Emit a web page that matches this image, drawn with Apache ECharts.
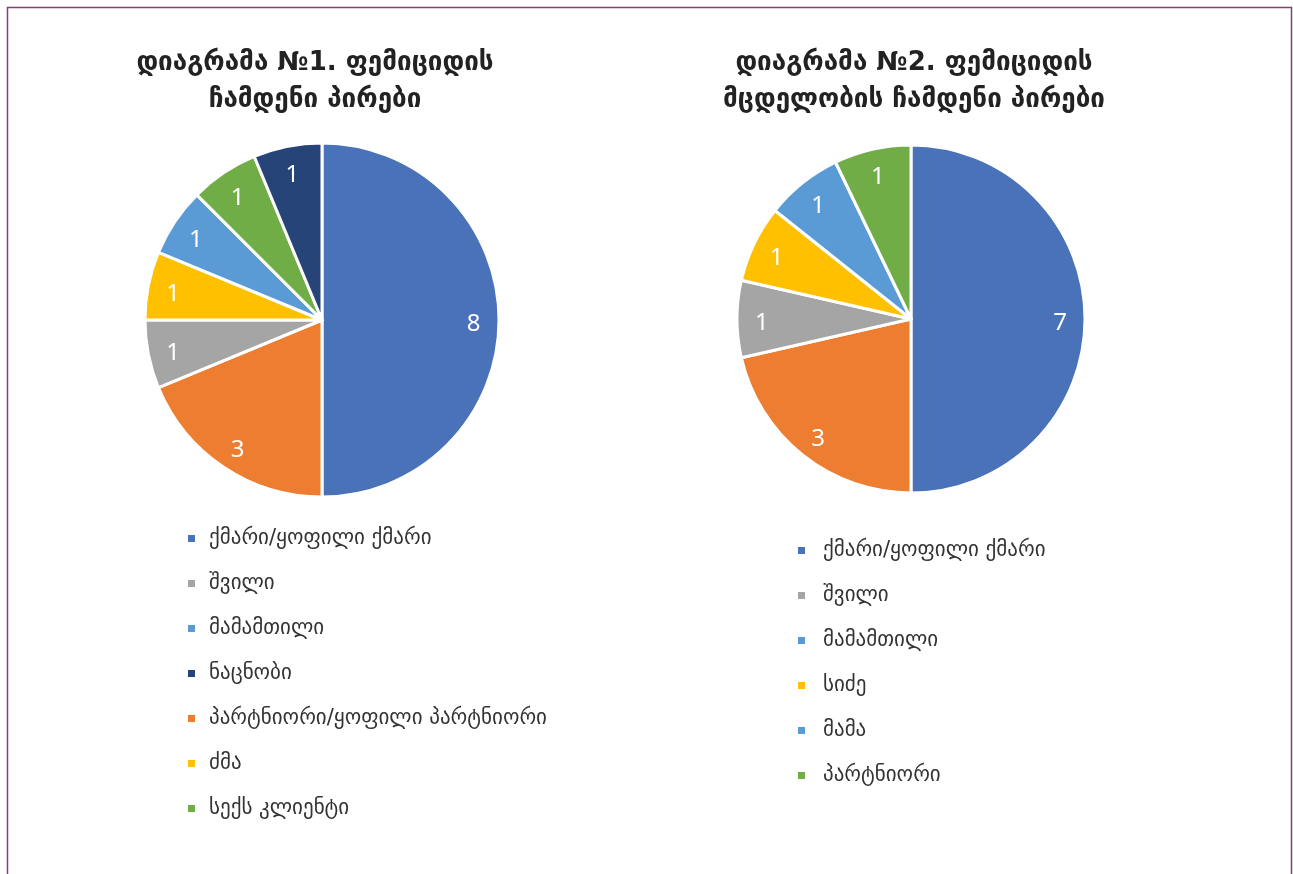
<!DOCTYPE html>
<html>
<head>
<meta charset="utf-8">
<script src="https://cdn.jsdelivr.net/npm/echarts@6/dist/echarts.min.js"></script>
<style>
html,body{margin:0;padding:0;background:#fff;}
#c{width:1293px;height:874px;}
</style>
</head>
<body>
<div id="c"></div>
<script>
// ---- Data ----
const title1 = "დიაგრამა №1. ფემიციდის\nჩამდენი პირები";
const title2 = "დიაგრამა №2. ფემიციდის\nმცდელობის ჩამდენი პირები";

// Chart 1 slices (clockwise from 12 o'clock)
const names1 = ["ქმარი/ყოფილი ქმარი", "პარტნიორი/ყოფილი პარტნიორი", "შვილი", "ძმა", "მამამთილი", "სექს კლიენტი", "ნაცნობი"];
const values1 = [8, 3, 1, 1, 1, 1, 1];
const colors1 = ["#4A72B8", "#ED7D31", "#A5A5A5", "#FFC000", "#5B9BD5", "#70AD47", "#264478"];
const legend1 = ["ქმარი/ყოფილი ქმარი", "შვილი", "მამამთილი", "ნაცნობი", "პარტნიორი/ყოფილი პარტნიორი", "ძმა", "სექს კლიენტი"];

// Chart 2 slices
const names2 = ["ქმარი/ყოფილი ქმარი", "შვილი", "მამამთილი", "სიძე", "მამა", "პარტნიორი"];
const values2 = [7, 3, 1, 1, 1, 1];
const colors2 = ["#4A72B8", "#ED7D31", "#A5A5A5", "#FFC000", "#5B9BD5", "#70AD47"];
const legend2 = ["ქმარი/ყოფილი ქმარი", "შვილი", "მამამთილი", "სიძე", "მამა", "პარტნიორი"];

const FONT = "'DejaVu Sans', 'Noto Sans', sans-serif";
const LABEL_FONT = "'Noto Sans', 'DejaVu Sans', sans-serif";

function pieSeries(names, values, colors, center, r) {
  return [
    {
      type: 'pie', center: center, radius: r, startAngle: 90, clockwise: true,
      data: names.map((n, i) => ({ name: n, value: values[i], itemStyle: { color: colors[i] } })),
      itemStyle: { borderColor: '#fff', borderWidth: 3 },
      label: { show: false }, labelLine: { show: false },
      emphasis: { disabled: true }, animation: false
    },
    {
      type: 'pie', center: center, radius: [r * 0.68, r], startAngle: 90, clockwise: true,
      data: names.map((n, i) => ({ name: n, value: values[i] })),
      itemStyle: { color: 'rgba(0,0,0,0)', borderWidth: 0 },
      label: { show: true, position: 'inside', color: '#fff', fontSize: 24, fontFamily: LABEL_FONT,
               offset: [0, 4], formatter: '{c}' },
      labelLine: { show: false }, silent: true,
      emphasis: { disabled: true }, animation: false
    }
  ];
}

function legendOf(data, left, top, pad) {
  return {
    data: data, left: left, top: top,
    orient: 'vertical', icon: 'rect', itemWidth: 9, itemHeight: 9, itemGap: 24,
    textStyle: { fontSize: 21, color: '#333', fontFamily: FONT, lineHeight: 19, padding: [0, 0, 0, pad] },
    selectedMode: false
  };
}

const titleStyle = { fontSize: 26, fontWeight: 'bold', color: '#222', fontFamily: FONT, lineHeight: 37, align: 'center' };

const chart = echarts.init(document.getElementById('c'), null, { renderer: 'canvas' });
chart.setOption({
  backgroundColor: '#fff',
  animation: false,
  graphic: [{
    type: 'rect', shape: { x: 7.5, y: 7.5, width: 1284, height: 900 },
    style: { fill: 'none', stroke: '#86406f', lineWidth: 1.5 }, silent: true
  }],
  title: [
    { text: title1, left: 310, top: 40, textAlign: 'center', textStyle: titleStyle },
    { text: title2, left: 909, top: 40, textAlign: 'center', textStyle: titleStyle }
  ],
  legend: [
    legendOf(legend1, 181, 523, 8),
    legendOf(legend2, 791, 535, 12)
  ],
  series: [].concat(
    pieSeries(names1, values1, colors1, [322, 320], 177),
    pieSeries(names2, values2, colors2, [911, 319], 174)
  )
});
</script>
</body>
</html>
